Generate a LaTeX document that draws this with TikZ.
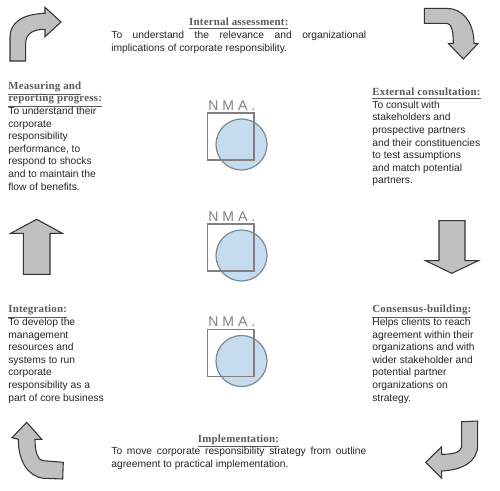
\documentclass[tikz,border=0pt]{standalone}
\usepackage{fontspec}
\setmainfont{Liberation Sans}
\newfontfamily\headfont[LetterSpace=2]{Liberation Serif}
\usetikzlibrary{positioning}
\definecolor{arrowgray}{RGB}{192, 192, 192}
\definecolor{headgray}{RGB}{90, 90, 90}
\definecolor{logogray}{RGB}{128, 128, 128}
\definecolor{logoblue}{RGB}{198, 220, 238}
\definecolor{logoedge}{RGB}{120, 140, 155}
\newcommand{\headline}[1]{\smash{\headfont\bfseries\fontsize{6.2pt}{7.17pt}\selectfont\color{headgray}\underline{#1}}}

\begin{document}
\begin{tikzpicture}[
        x=0.02cm, y=-0.02cm,
        head/.style={inner sep=0pt},
        body/.style={inner sep=0pt, align=left, font=\fontsize{5.85pt}{7.17pt}\selectfont, text=black!85},
        wide/.style={body, text width=5.1cm, align=justify},
        bigarrow/.style={draw=black!80, fill=arrowgray, line width=0.6pt, line join=miter},
        nma/.pic={
            \fill[logoblue] (241.5,144.5) circle (25.5);
            \draw[logoedge, line width=0.7pt] (241.5,144.5) circle (25.5);
            \draw[logogray, line width=0.9pt] (207.5,113) rectangle (254,160);
            \node[anchor=base west, inner sep=0pt, text=logogray, font=\fontsize{8pt}{9pt}\selectfont] at (208,110) {N M A .};
        }
    ]
        \useasboundingbox (0,0) rectangle (500,490);
        \fill[white] (0,0) rectangle (500,490);

        % Logos
        \pic at (0,0) {nma};
        \pic at (0,111) {nma};
        \pic at (0,216.5) {nma};

        % Top and bottom texts
        \node[head, anchor=base] (assesshead) at (238.8,25.5) {\headline{Internal assessment:}};
        \node[wide, anchor=north west] (assessbody) at (111,31) {To understand the relevance and organizational\linebreak implications of corporate responsibility.};
        \node[head, anchor=base] (implhead) at (238.5,442) {\headline{Implementation:}};
        \node[wide, anchor=north west] (implbody) at (111,447) {To move corporate responsibility strategy from outline\linebreak agreement to practical implementation.};

        % Left column
        \node[body, anchor=north west] (measure) at (8,89) {\headline{Measuring and}\\\headline{reporting progress:}\\To understand their\\corporate\\responsibility\\performance, to\\respond to shocks\\and to maintain the\\flow of benefits.};
        \node[body, anchor=north west] (integr) at (8,312.5) {\headline{Integration:}\\To develop the\\management\\resources and\\systems to run\\corporate\\responsibility as a\\part of core business};

        % Right column
        \node[body, anchor=north west] (external) at (372,95.3) {\headline{External consultation:}\\To consult with\\stakeholders and\\prospective partners\\and their constituencies\\to test assumptions\\and match potential\\partners.};
        \node[body, anchor=north west] (consensus) at (372,312.5) {\headline{Consensus-building:}\\Helps clients to reach\\agreement within their\\organizations and with\\wider stakeholder and\\potential partner\\organizations on\\strategy.};

        % Arrows
        \draw[bigarrow] (10,61) -- (25.7,61) -- (25.7,43) .. controls (25.7,34) and (33,29.3) .. (45,29.3) -- (45,36.7) -- (61,22) -- (45,7.3) -- (45,13.3) .. controls (22,14) and (10,23) .. (10,37) -- cycle;
        \draw[bigarrow] (424.3,8.3) -- (446.7,8.3) .. controls (462,8.3) and (474,22) .. (474,43.3) -- (478.3,43.3) -- (463.3,59) -- (448.3,43.3) -- (453.3,43.3) .. controls (453.3,30) and (451,23.3) .. (446.7,23.3) -- (424.3,23.3) -- cycle;
        \draw[bigarrow] (36.7,219.3) -- (62.3,233.3) -- (50,233.3) -- (50,274.3) -- (23.3,274.3) -- (23.3,233.3) -- (10.7,233.3) -- cycle;
        \draw[bigarrow] (439,220.7) -- (465,220.7) -- (465,260.7) -- (478.3,260.7) -- (451.7,273.3) -- (425.7,260.7) -- (439,260.7) -- cycle;
        \draw[bigarrow] (26.7,422.3) -- (41.7,439.3) -- (35,439.3) .. controls (35,452) and (38,460.7) .. (43.3,460.7) -- (63.3,462.3) -- (62.7,479) -- (43.3,478.3) .. controls (27,476) and (18.3,460) .. (18.3,439.3) -- (12,437.7) -- cycle;
        \draw[bigarrow] (461.7,421.7) -- (477.7,421) -- (477.7,445) .. controls (477.7,462) and (462,470) .. (441.7,471) -- (441.7,478.3) -- (425.7,462.3) -- (441.7,446.7) -- (441.7,454.3) .. controls (455,454.3) and (461.7,452) .. (461.7,445) -- cycle;
    \end{tikzpicture}
\end{document}
